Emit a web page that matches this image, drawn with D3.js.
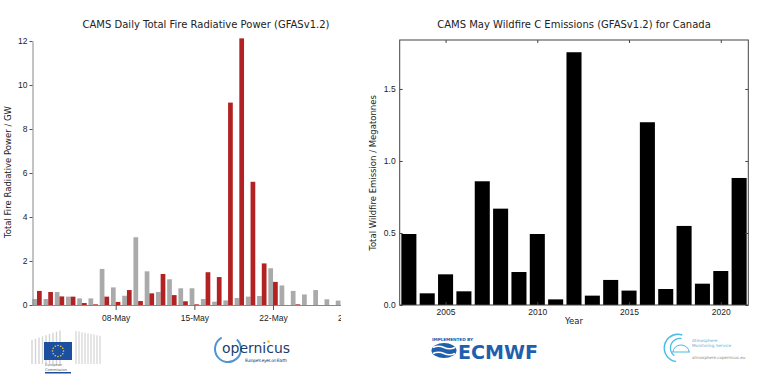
<!DOCTYPE html>
<html>
<head>
<meta charset="utf-8">
<script src="https://cdn.jsdelivr.net/npm/d3@7"></script>
<style>
  body { margin: 0; background: #fff; }
  svg { display: block; font-family: "DejaVu Sans", sans-serif; }
</style>
</head>
<body>
<script>
// daily FRP for 1..28 May (GW)
const days = d3.range(1, 29).map(d => new Date(Date.UTC(2021, 4, d)));
const frpReference = [0.27, 0.27, 0.59, 0.38, 0.30, 0.30, 1.64, 0.80, 0.42, 3.08, 1.53, 0.59, 1.17, 0.76,
  0.76, 0.27, 0.15, 0.21, 0.32, 0.38, 0.41, 1.67, 0.89, 0.64, 0.48, 0.68, 0.26, 0.20];
const frpThisYear = [0.64, 0.59, 0.39, 0.38, 0.09, 0.03, 0.38, 0.14, 0.68, 0.18, 0.53, 1.41, 0.45, 0.17,
  0.03, 1.49, 1.27, 9.20, 12.12, 5.60, 1.89, 1.05, 0, 0.03, 0, 0, 0, 0];
const frpTicks = [0, 2, 4, 6, 8, 10, 12];

// May carbon emissions for Canada (Mt)
const years = d3.range(2003, 2022);
const emissions = [0.493, 0.081, 0.213, 0.095, 0.859, 0.669, 0.229, 0.493, 0.039, 1.755,
  0.065, 0.174, 0.100, 1.269, 0.111, 0.549, 0.148, 0.236, 0.882];
const emisTicks = [0, 0.5, 1.0, 1.5];
const yearTicks = [2005, 2010, 2015, 2020];

const W = 768, H = 375;
const svg = d3.select('body').append('svg').attr('width', W).attr('height', H);

// ---------- left panel ----------
const xL = d3.scaleUtc()
  .domain([new Date(Date.UTC(2021, 4, 1)), new Date(Date.UTC(2021, 4, 29))])
  .range([37, 37 + 28 * 11.24]);
const yL = d3.scaleLinear().domain([0, 12]).range([305, 41]);
const step = xL(days[1]) - xL(days[0]);
const bw = step * 0.42;

svg.append('clipPath').attr('id', 'clipL')
  .append('rect').attr('x', 0).attr('y', 0).attr('width', 341).attr('height', H);

const left = svg.append('g').attr('clip-path', 'url(#clipL)');

left.append('g').selectAll('rect')
  .data(days)
  .join('rect')
  .attr('x', d => xL(d) - bw)
  .attr('y', (d, i) => yL(frpReference[i]))
  .attr('width', bw)
  .attr('height', (d, i) => yL(0) - yL(frpReference[i]))
  .attr('fill', '#aaaaaa');

left.append('g').selectAll('rect')
  .data(days)
  .join('rect')
  .attr('x', d => xL(d))
  .attr('y', (d, i) => yL(frpThisYear[i]))
  .attr('width', bw)
  .attr('height', (d, i) => yL(0) - yL(frpThisYear[i]))
  .attr('fill', '#b22222');

const axL = left.append('g')
  .attr('transform', 'translate(0,305)')
  .call(d3.axisBottom(xL)
    .tickValues([8, 15, 22, 29].map(d => new Date(Date.UTC(2021, 4, d))))
    .tickFormat(d3.utcFormat('%d-%b'))
    .tickSize(5).tickSizeOuter(0));
axL.select('.domain').attr('d', 'M32.5,0.5H341').attr('stroke', '#888');
axL.selectAll('.tick line').attr('stroke', '#555');
axL.selectAll('text').attr('font-size', 8.5).attr('fill', '#222').attr('dy', '0.9em');

const ayL = svg.append('g')
  .attr('transform', 'translate(32.5,0)')
  .call(d3.axisLeft(yL).tickValues(frpTicks).tickSize(3).tickSizeOuter(0));
ayL.select('.domain').attr('stroke', '#888');
ayL.selectAll('.tick line').attr('stroke', '#555');
ayL.selectAll('text').attr('font-size', 8.5).attr('fill', '#222').attr('x', -5);

svg.append('text')
  .attr('x', 206).attr('y', 28)
  .attr('text-anchor', 'middle').attr('font-size', 10).attr('fill', '#222')
  .text('CAMS Daily Total Fire Radiative Power (GFASv1.2)');

svg.append('text')
  .attr('transform', 'translate(11,172) rotate(-90)')
  .attr('text-anchor', 'middle').attr('font-size', 8.5).attr('fill', '#222')
  .text('Total Fire Radiative Power / GW');

// ---------- right panel ----------
const xR = d3.scaleLinear().domain([2002.5, 2021.5]).range([399.7, 748.3]);
const yR = d3.scaleLinear().domain([0, 1.84]).range([305, 40]);
const rw = (xR(1) - xR(0)) * 0.82;

svg.append('g').selectAll('rect')
  .data(years)
  .join('rect')
  .attr('x', d => xR(d) - rw / 2)
  .attr('y', (d, i) => yR(emissions[i]))
  .attr('width', rw)
  .attr('height', (d, i) => yR(0) - yR(emissions[i]))
  .attr('fill', '#000');

const axR = svg.append('g')
  .attr('transform', 'translate(0,305)')
  .call(d3.axisBottom(xR).tickValues(yearTicks).tickFormat(d3.format('d')).tickSize(-3).tickSizeOuter(0));
axR.select('.domain').remove();
axR.selectAll('.tick line').attr('stroke', '#444');
axR.selectAll('text').attr('font-size', 8.5).attr('fill', '#222').attr('y', 4).attr('dy', '0.71em');

svg.append('g')
  .attr('transform', 'translate(0,40)')
  .call(d3.axisTop(xR).tickValues(yearTicks).tickFormat('').tickSize(-3).tickSizeOuter(0))
  .call(g => g.select('.domain').remove())
  .selectAll('.tick line').attr('stroke', '#444');

const ayR = svg.append('g')
  .attr('transform', 'translate(399.7,0)')
  .call(d3.axisLeft(yR).tickValues(emisTicks).tickFormat(d3.format('.1f')).tickSize(-3).tickSizeOuter(0));
ayR.select('.domain').remove();
ayR.selectAll('.tick line').attr('stroke', '#444');
ayR.selectAll('text').attr('font-size', 8.5).attr('fill', '#222').attr('x', -4);

svg.append('g')
  .attr('transform', 'translate(748.3,0)')
  .call(d3.axisRight(yR).tickValues(emisTicks).tickFormat('').tickSize(-3).tickSizeOuter(0))
  .call(g => g.select('.domain').remove())
  .selectAll('.tick line').attr('stroke', '#444');

svg.append('rect')
  .attr('x', 399.7).attr('y', 40).attr('width', 748.3 - 399.7).attr('height', 265)
  .attr('fill', 'none').attr('stroke', '#444').attr('stroke-width', 1);

svg.append('text')
  .attr('x', 574).attr('y', 28)
  .attr('text-anchor', 'middle').attr('font-size', 10).attr('fill', '#222')
  .text('CAMS May Wildfire C Emissions (GFASv1.2) for Canada');

svg.append('text')
  .attr('transform', 'translate(376,173) rotate(-90)')
  .attr('text-anchor', 'middle').attr('font-size', 8.5).attr('fill', '#222')
  .text('Total Wildfire Emission / Megatonnes');

svg.append('text')
  .attr('x', 574).attr('y', 324)
  .attr('text-anchor', 'middle').attr('font-size', 8.5).attr('fill', '#222')
  .text('Year');

// ---------- logos ----------
const logos = svg.append('g');

// European Commission
const ec = logos.append('g');
d3.range(0, 9).forEach(i => {
  ec.append('line').attr('x1', 32 + i * 3.5).attr('x2', 32 + i * 3.5)
    .attr('y1', 340 - i * 1.2).attr('y2', 364).attr('stroke', '#d4d4d4').attr('stroke-width', 1.4);
  ec.append('line').attr('x1', 76 + i * 3).attr('x2', 76 + i * 3)
    .attr('y1', 331 + i * 0.6).attr('y2', 364).attr('stroke', '#d4d4d4').attr('stroke-width', 1.2);
});
ec.append('rect').attr('x', 44).attr('y', 342).attr('width', 28).attr('height', 18).attr('fill', '#1d4fa0');
d3.range(12).forEach(i => {
  const a = i / 12 * 2 * Math.PI;
  ec.append('circle').attr('cx', 58 + 5.5 * Math.sin(a)).attr('cy', 351 - 5.5 * Math.cos(a))
    .attr('r', 0.8).attr('fill', '#f2d23a');
});
ec.append('text').attr('x', 45).attr('y', 366).attr('font-size', 3.6).attr('fill', '#666').text('European');
ec.append('text').attr('x', 45).attr('y', 370.5).attr('font-size', 3.6).attr('fill', '#666').text('Commission');
ec.append('rect').attr('x', 45).attr('y', 372).attr('width', 26).attr('height', 1.5).attr('fill', '#1d4fa0');

// Copernicus
const cop = logos.append('g');
cop.append('path')
  .attr('d', d3.arc()({ innerRadius: 12, outerRadius: 14, startAngle: 0.35 * Math.PI, endAngle: 1.95 * Math.PI }))
  .attr('transform', 'translate(228,349) rotate(-20)')
  .attr('fill', '#4f93cf');
cop.append('text').attr('x', 222).attr('y', 353).attr('font-size', 14).attr('fill', '#1b3d70')
  .attr('textLength', 68).attr('lengthAdjust', 'spacingAndGlyphs').text('opernicus');
cop.append('circle').attr('cx', 268.5).attr('cy', 341.5).attr('r', 1.3).attr('fill', '#f0c020');
cop.append('text').attr('x', 245).attr('y', 361.5).attr('font-size', 4.4).attr('fill', '#1b3d70')
  .attr('textLength', 42).text("Europe's eyes on Earth");

// ECMWF
const ecm = logos.append('g');
ecm.append('text').attr('x', 432).attr('y', 340.5).attr('font-size', 4.3).attr('font-weight', 'bold')
  .attr('fill', '#1f5fae').attr('textLength', 41).text('IMPLEMENTED BY');
ecm.append('ellipse').attr('cx', 444).attr('cy', 350.5).attr('rx', 12.5).attr('ry', 7.5).attr('fill', '#1f5fae');
[347.5, 353.5].forEach(y => {
  ecm.append('path')
    .attr('d', `M433,${y} q5.5,-2.5 11,0 t11,0`)
    .attr('fill', 'none').attr('stroke', '#fff').attr('stroke-width', 1.6);
});
ecm.append('text').attr('x', 458).attr('y', 358.5).attr('font-size', 19).attr('font-weight', 'bold')
  .attr('fill', '#1f5fae').attr('textLength', 80).attr('lengthAdjust', 'spacingAndGlyphs').text('ECMWF');

// Atmosphere Monitoring Service
const ams = logos.append('g');
ams.append('path')
  .attr('d', d3.arc()({ innerRadius: 13, outerRadius: 14.5, startAngle: 1.05 * Math.PI, endAngle: 2.1 * Math.PI }))
  .attr('transform', 'translate(678,348)').attr('fill', '#4dbbe8');
ams.append('path')
  .attr('d', d3.arc()({ innerRadius: 9, outerRadius: 10.3, startAngle: 1.2 * Math.PI, endAngle: 2.05 * Math.PI }))
  .attr('transform', 'translate(680,348)').attr('fill', '#4dbbe8');
ams.append('path').attr('d', 'M673,352 a8,7 0 0 1 16,0').attr('fill', 'none').attr('stroke', '#4dbbe8').attr('stroke-width', 1);
ams.append('line').attr('x1', 672).attr('x2', 690).attr('y1', 352).attr('y2', 352).attr('stroke', '#4dbbe8').attr('stroke-width', 1);
ams.append('text').attr('x', 692).attr('y', 341.5).attr('font-size', 4.2).attr('fill', '#5aaed6').text('Atmosphere');
ams.append('text').attr('x', 692).attr('y', 347).attr('font-size', 4.2).attr('fill', '#5aaed6').text('Monitoring Service');
ams.append('text').attr('x', 692).attr('y', 359).attr('font-size', 4).attr('fill', '#888').text('atmosphere.copernicus.eu');
</script>
</body>
</html>
